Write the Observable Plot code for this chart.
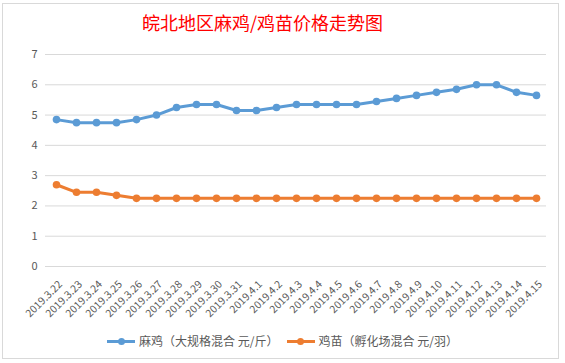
<!DOCTYPE html>
<html><head><meta charset="utf-8">
<script src="https://cdn.jsdelivr.net/npm/d3@7"></script>
<script src="https://cdn.jsdelivr.net/npm/@observablehq/plot@0.6"></script>
<style>
body{margin:0;background:#fff;width:565px;height:363px;overflow:hidden;position:relative;font-family:"Noto Sans CJK SC","Noto Sans",sans-serif;}
#frame{position:absolute;left:2px;top:3px;width:557px;height:356px;border:1px solid #d9d9d9;box-sizing:border-box;}
#title{position:absolute;left:0;top:8px;width:525px;text-align:center;font-size:18px;color:#ff0000;line-height:28px;}
#chart{position:absolute;left:0;top:40px;}
#legend{position:absolute;left:0;top:331px;width:565px;display:flex;justify-content:center;font-size:12px;color:#595959;line-height:20px;}
.item{display:flex;align-items:center;margin:0 4px;}
.sw{position:relative;width:28px;height:20px;margin-right:4px;}
.sw .ln{position:absolute;left:0;top:8.5px;width:28px;height:3px;}
.sw .dt{position:absolute;left:10.5px;top:6.5px;width:7px;height:7px;border-radius:50%;}
</style></head>
<body>
<div id="frame"></div>
<div id="title">皖北地区麻鸡/鸡苗价格走势图</div>
<div id="chart"></div>
<div id="legend"></div>
<script>
const dates = ["2019.3.22","2019.3.23","2019.3.24","2019.3.25","2019.3.26","2019.3.27","2019.3.28","2019.3.29","2019.3.30","2019.3.31","2019.4.1","2019.4.2","2019.4.3","2019.4.4","2019.4.5","2019.4.6","2019.4.7","2019.4.8","2019.4.9","2019.4.10","2019.4.11","2019.4.12","2019.4.13","2019.4.14","2019.4.15"];
const maji = [4.85,4.75,4.75,4.75,4.85,5.0,5.25,5.35,5.35,5.15,5.15,5.25,5.35,5.35,5.35,5.35,5.45,5.55,5.65,5.75,5.85,6.0,6.0,5.75,5.65];
const jimiao = [2.7,2.45,2.45,2.35,2.25,2.25,2.25,2.25,2.25,2.25,2.25,2.25,2.25,2.25,2.25,2.25,2.25,2.25,2.25,2.25,2.25,2.25,2.25,2.25,2.25];
const seriesNames = ["麻鸡（大规格混合 元/斤）","鸡苗（孵化场混合 元/羽）"];
const colors = ["#5b9bd5","#ed7d31"];
const yTicks = [0,1,2,3,4,5,6,7];

const rows = [];
dates.forEach((d,i)=>{
  rows.push({date:d, value:maji[i], series:seriesNames[0]});
  rows.push({date:d, value:jimiao[i], series:seriesNames[1]});
});

const plot = Plot.plot({
  width:565, height:282,
  marginLeft:45, marginRight:19, marginTop:14, marginBottom:56,
  style:{fontFamily:'"Noto Sans CJK SC","Noto Sans",sans-serif', fontSize:"11px", color:"#595959", background:"transparent"},
  x:{type:"point", domain:dates, padding:0.5, axis:null},
  y:{domain:[0,7], ticks:yTicks, axis:null},
  color:{domain:seriesNames, range:colors},
  marks:[
    Plot.ruleY(yTicks, {stroke:"#d9d9d9", strokeWidth:1}),
    Plot.axisY(yTicks, {tickSize:0, tickPadding:8, fill:"#595959", fontSize:11, label:null}),
    Plot.text(dates, {x:d=>d, frameAnchor:"bottom", dy:16, dx:4, rotate:-45, textAnchor:"end", lineAnchor:"middle", fill:"#595959", fontSize:10.5, clip:false}),
    Plot.line(rows, {x:"date", y:"value", z:"series", stroke:"series", strokeWidth:3}),
    Plot.dot(rows, {x:"date", y:"value", fill:"series", r:3.8})
  ]
});
document.getElementById("chart").appendChild(plot);

const legend = document.getElementById("legend");
seriesNames.forEach((n,i)=>{
  const it = document.createElement("div"); it.className="item";
  it.innerHTML = `<div class="sw"><div class="ln" style="background:${colors[i]}"></div><div class="dt" style="background:${colors[i]}"></div></div><span>${n}</span>`;
  legend.appendChild(it);
});
</script>
</body></html>
